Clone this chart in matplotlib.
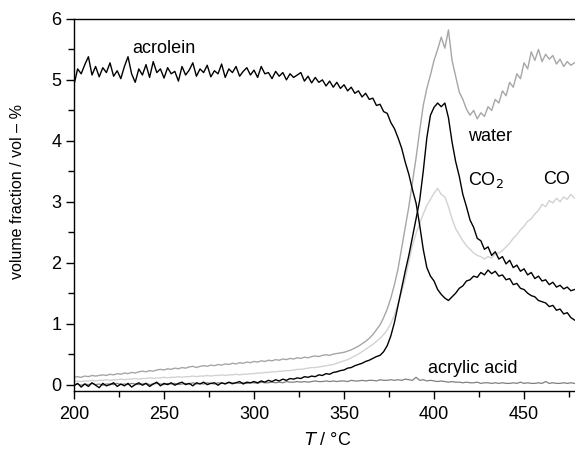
import matplotlib.pyplot as plt
import numpy as np
from matplotlib.ticker import MultipleLocator

plt.rcParams['font.family'] = ['Liberation Sans', 'DejaVu Sans']

# temperature grid, 2 degC steps
T = np.arange(200, 480, 2)

acrolein = [
    4.92, 5.18, 5.10, 5.25, 5.38, 5.08, 5.22, 5.05, 5.20, 5.12,
    5.28, 5.06, 5.15, 5.02, 5.22, 5.38, 5.10, 4.96, 5.18, 5.08,
    5.25, 5.04, 5.30, 5.12, 5.18, 5.03, 5.20, 5.10, 5.14, 4.98,
    5.22, 5.08, 5.16, 5.28, 5.06, 5.18, 5.12, 5.24, 5.05, 5.15,
    5.10, 5.26, 5.04, 5.18, 5.12, 5.22, 5.06, 5.14, 5.20, 5.08,
    5.16, 5.04, 5.22, 5.10, 5.12, 5.02, 5.14, 5.06, 5.12, 5.00,
    5.10, 5.04, 5.08, 5.12, 4.98, 5.06, 4.95, 5.04, 4.96, 5.00,
    4.90, 4.98, 4.88, 4.96, 4.86, 4.92, 4.82, 4.88, 4.78, 4.82,
    4.72, 4.78, 4.68, 4.70, 4.58, 4.60, 4.48, 4.45, 4.30, 4.20,
    4.05, 3.88, 3.65, 3.45, 3.20, 2.98, 2.62, 2.22, 1.92, 1.78,
    1.70, 1.56, 1.48, 1.42, 1.38, 1.44, 1.50, 1.58, 1.62, 1.70,
    1.72, 1.78, 1.76, 1.84, 1.80, 1.88, 1.82, 1.86, 1.78, 1.80,
    1.72, 1.74, 1.64, 1.66, 1.58, 1.56, 1.50, 1.46, 1.44, 1.38,
    1.36, 1.34, 1.28, 1.30, 1.22, 1.24, 1.16, 1.18, 1.10, 1.06,
]

co2 = [
    -0.02, 0.02, -0.04, 0.01, -0.03, 0.03, -0.01, -0.05, 0.02, -0.02,
    0.00, 0.03, -0.03, 0.01, -0.02, 0.02, -0.04, 0.00, 0.03, -0.01,
    0.02, -0.03, 0.01, 0.04, -0.02, 0.02, 0.00, 0.03, -0.01, 0.02,
    0.04, 0.00, 0.02, -0.02, 0.03, 0.01, 0.04, 0.00, 0.02, 0.03,
    -0.01, 0.03, 0.01, 0.04, 0.02, 0.03, 0.05, 0.01, 0.04, 0.03,
    0.05, 0.03, 0.06, 0.04, 0.07, 0.05, 0.08, 0.06, 0.09, 0.07,
    0.10, 0.09, 0.11, 0.10, 0.13, 0.12, 0.14, 0.13, 0.16, 0.15,
    0.18, 0.17, 0.20, 0.21, 0.23,
    0.24, 0.27, 0.28, 0.31, 0.33, 0.35, 0.38, 0.40, 0.43, 0.46,
    0.48, 0.54, 0.64, 0.80, 1.02, 1.30, 1.58, 1.86, 2.12, 2.42,
    2.72, 3.02, 3.50, 4.05, 4.42,
    4.55, 4.62, 4.56, 4.62, 4.38, 3.98, 3.66, 3.42, 3.12, 2.92,
    2.70, 2.58, 2.40, 2.36, 2.22, 2.26, 2.12, 2.18, 2.06, 2.10,
    1.98, 2.04, 1.92, 1.96, 1.86, 1.90, 1.80, 1.84, 1.74, 1.78,
    1.70, 1.72, 1.64, 1.68, 1.60, 1.63, 1.57, 1.60, 1.54, 1.56,
]

water = [
    0.12, 0.13, 0.12, 0.14, 0.13, 0.15, 0.14, 0.15, 0.16, 0.15,
    0.17, 0.16, 0.18, 0.17, 0.19, 0.18, 0.20, 0.19, 0.21, 0.22,
    0.21, 0.23, 0.22, 0.24, 0.25, 0.24, 0.26, 0.25, 0.27, 0.26,
    0.28, 0.27, 0.29, 0.30, 0.28, 0.30, 0.31, 0.30, 0.32, 0.31,
    0.33, 0.32, 0.34, 0.33, 0.35, 0.34, 0.36, 0.35, 0.37, 0.36,
    0.38, 0.37, 0.39, 0.38, 0.40, 0.39, 0.41, 0.40, 0.42, 0.41,
    0.43, 0.42, 0.44, 0.43, 0.45, 0.44, 0.46, 0.47, 0.46, 0.48,
    0.49, 0.48, 0.50, 0.51, 0.52,
    0.53, 0.55, 0.57, 0.60, 0.63, 0.67, 0.71, 0.76, 0.82, 0.90,
    0.98, 1.10, 1.24, 1.42, 1.64, 1.90, 2.24, 2.58, 2.92, 3.32,
    3.72, 4.16, 4.58, 4.86, 5.08,
    5.32, 5.50, 5.70, 5.52, 5.82, 5.32, 5.06, 4.80, 4.68, 4.52,
    4.42, 4.50, 4.36, 4.46, 4.40, 4.56, 4.50, 4.68, 4.62, 4.82,
    4.74, 4.96, 4.88, 5.10, 5.02, 5.28, 5.18, 5.46, 5.32, 5.50,
    5.30, 5.42, 5.34, 5.40, 5.26, 5.34, 5.22, 5.30, 5.24, 5.28,
]

co = [
    0.05, 0.06, 0.05, 0.06, 0.06, 0.07, 0.06, 0.07, 0.07, 0.08,
    0.07, 0.08, 0.08, 0.09, 0.08, 0.09, 0.09, 0.10, 0.09, 0.10,
    0.10, 0.11, 0.10, 0.11, 0.11, 0.12, 0.11, 0.12, 0.12, 0.13,
    0.12, 0.13, 0.13, 0.14, 0.13, 0.14, 0.14, 0.15, 0.14, 0.15,
    0.15, 0.16, 0.15, 0.16, 0.16, 0.17, 0.16, 0.17, 0.17, 0.18,
    0.18, 0.19, 0.19, 0.20, 0.20, 0.21, 0.21, 0.22, 0.22, 0.23,
    0.23, 0.24, 0.25, 0.25, 0.26, 0.27, 0.28, 0.28, 0.29, 0.30,
    0.31, 0.32, 0.33, 0.35, 0.37,
    0.39, 0.41, 0.44, 0.47, 0.50, 0.54, 0.58, 0.62, 0.66, 0.71,
    0.76, 0.82, 0.90, 1.00, 1.14, 1.32, 1.52, 1.74, 2.02, 2.28,
    2.48, 2.64, 2.80, 2.94, 3.04,
    3.14, 3.22, 3.12, 3.08, 2.92, 2.72, 2.56, 2.46, 2.36, 2.28,
    2.22, 2.16, 2.12, 2.10, 2.06, 2.10, 2.08, 2.14, 2.16, 2.20,
    2.26, 2.32, 2.40, 2.46, 2.54, 2.60, 2.68, 2.72, 2.80, 2.86,
    2.96, 2.92, 3.02, 2.98, 3.06, 3.00, 3.08, 3.04, 3.12, 3.06,
]

acrylic = [
    0.00, 0.01, -0.01, 0.01, 0.00, 0.02, 0.00, 0.01, -0.01, 0.01,
    0.01, 0.00, 0.02, 0.00, 0.01, 0.00, 0.02, 0.01, 0.00, 0.01,
    0.02, 0.00, 0.01, 0.02, 0.01, 0.00, 0.02, 0.01, 0.02, 0.00,
    0.01, 0.02, 0.01, 0.03, 0.01, 0.02, 0.01, 0.03, 0.02, 0.01,
    0.03, 0.02, 0.02, 0.03, 0.01, 0.03, 0.02, 0.03, 0.02, 0.03,
    0.03, 0.02, 0.04, 0.03, 0.03, 0.04, 0.03, 0.04, 0.03, 0.05,
    0.04, 0.04, 0.05, 0.04, 0.05, 0.04, 0.05, 0.06, 0.05, 0.05,
    0.06, 0.05, 0.06, 0.05, 0.06,
    0.06, 0.05, 0.07, 0.06, 0.06, 0.07, 0.06, 0.07, 0.07, 0.06,
    0.08, 0.07, 0.07, 0.08, 0.07, 0.08, 0.07, 0.09, 0.08, 0.07,
    0.12, 0.07, 0.08, 0.06, 0.07,
    0.06, 0.05, 0.06, 0.05, 0.04, 0.05, 0.04, 0.04, 0.03, 0.04,
    0.03, 0.03, 0.04, 0.02, 0.03, 0.03, 0.02, 0.03, 0.02, 0.03,
    0.02, 0.02, 0.03, 0.02, 0.04, 0.02, 0.03, 0.02, 0.02, 0.03,
    0.02, 0.05, 0.02, 0.03, 0.02, 0.02, 0.03, 0.02, 0.03, 0.02,
]

fig = plt.figure(figsize=(5.75, 4.51), dpi=100)
ax = fig.add_axes([0.1287, 0.1337, 0.8713, 0.8243])

ax.plot(T, co, color="#d2d2d2", lw=1.0)
ax.plot(T, water, color="#a6a6a6", lw=1.0)
ax.plot(T, acrylic, color="#808080", lw=0.9)
ax.plot(T, co2, color="black", lw=1.0)
ax.plot(T, acrolein, color="black", lw=1.0)

ax.text(232.6, 5.52, "acrolein", fontsize=13, va="center")
ax.text(418.7, 4.07, "water", fontsize=13, va="center")
ax.text(418.7, 3.36, "CO$_2$", fontsize=13, va="center")
ax.text(460.4, 3.36, "CO", fontsize=13, va="center")
ax.text(396.7, 0.26, "acrylic acid", fontsize=13, va="center")

ax.set_xlim(200, 478.3)
ax.set_ylim(-0.1, 6)
ax.xaxis.set_major_locator(MultipleLocator(50))
ax.xaxis.set_minor_locator(MultipleLocator(25))
ax.yaxis.set_major_locator(MultipleLocator(1))
ax.yaxis.set_minor_locator(MultipleLocator(0.5))
ax.tick_params(which="major", direction="out", length=6, width=1, labelsize=13)
ax.tick_params(axis="x", which="major", pad=5)
ax.tick_params(axis="y", which="major", pad=3)
ax.tick_params(which="minor", direction="out", length=4, width=1)
ax.spines["right"].set_visible(False)
for s in ["left", "bottom", "top"]:
    ax.spines[s].set_linewidth(1.0)

ax.set_xlabel("$\\mathit{T}$ / °C", fontsize=13)
ax.set_ylabel("volume fraction / vol – %", fontsize=11.5)
ax.xaxis.set_label_coords(0.506, -0.112)
ax.yaxis.set_label_coords(-0.098, 0.535)

fig.savefig("out.png", dpi=100)
